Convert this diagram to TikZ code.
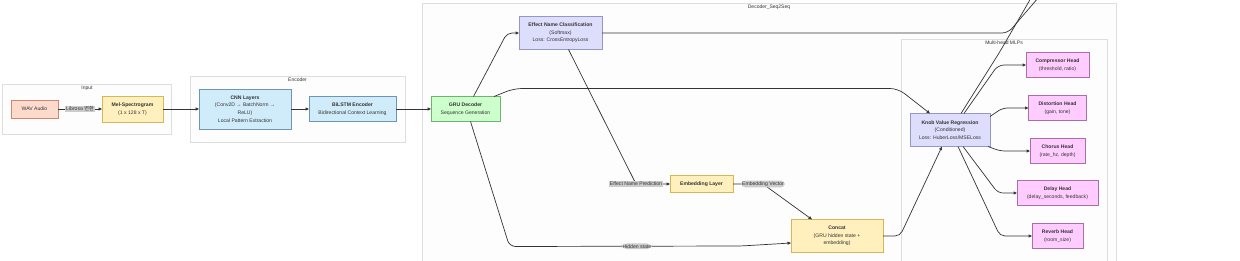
\documentclass[tikz,border=0pt]{standalone}
\usepackage{fontspec}
\setmainfont{Liberation Sans}
\newfontfamily\krfont{Noto Sans CJK KR}
\usepackage{tikz}
\usetikzlibrary{positioning,fit,backgrounds,calc,arrows.meta}
\definecolor{textgray}{RGB}{51,51,51}
\definecolor{linegray}{RGB}{51,51,51}
\definecolor{labelgray}{RGB}{204,204,204}
\definecolor{clusterfill}{RGB}{253,253,253}
\definecolor{clusterdraw}{RGB}{222,222,222}
\definecolor{wavfill}{RGB}{253,218,204}
\definecolor{wavdraw}{RGB}{204,136,112}
\definecolor{melfill}{RGB}{255,240,190}
\definecolor{meldraw}{RGB}{214,182,86}
\definecolor{encfill}{RGB}{208,236,250}
\definecolor{encdraw}{RGB}{110,150,180}
\definecolor{grufill}{RGB}{204,255,204}
\definecolor{grudraw}{RGB}{110,180,110}
\definecolor{taskfill}{RGB}{221,221,252}
\definecolor{taskdraw}{RGB}{150,150,200}
\definecolor{headfill}{RGB}{255,204,255}
\definecolor{headdraw}{RGB}{170,110,170}

\begin{document}
\begin{tikzpicture}[
    x=1pt, y=-1pt,
    box/.style={rectangle, draw, line width=0.5pt, outer sep=0pt, text=textgray, align=center, inner sep=1pt, font=\fontsize{5.1}{7.6}\selectfont},
    audio/.style={box, draw=wavdraw, fill=wavfill},
    feature/.style={box, draw=meldraw, fill=melfill},
    encoder/.style={box, draw=encdraw, fill=encfill},
    decoder/.style={box, draw=grudraw, fill=grufill},
    task/.style={box, draw=taskdraw, fill=taskfill},
    head/.style={box, draw=headdraw, fill=headfill, minimum height=25pt},
    cluster/.style={rectangle, draw=clusterdraw, fill=clusterfill, line width=0.6pt, outer sep=0pt, inner xsep=9pt, inner ysep=13pt},
    clabel/.style={anchor=north, inner sep=1.5pt, text=textgray, font=\fontsize{5}{6}\selectfont},
    elabel/.style={fill=labelgray, inner sep=1pt, text=textgray, font=\fontsize{5.1}{6}\selectfont},
    arrow/.style={-{Triangle[length=3.5pt, width=3pt]}, line width=0.7pt, draw=linegray}
]

\useasboundingbox (0,0) rectangle (1240,260);
\clip (0,0) rectangle (1240,260);

\node[audio, minimum width=47pt, minimum height=18pt] (wav) at (34.5,109) {WAV Audio};
\node[feature, minimum width=61pt, minimum height=26pt, right=44pt of wav] (mel) {\textbf{Mel-Spectrogram}\\(1 x 128 x T)};

\node[encoder, minimum width=92pt, minimum height=40pt, right=36pt of mel] (cnn) {\textbf{CNN Layers}\\(Conv2D → BatchNorm →\\ReLU)\\Local Pattern Extraction};
\node[encoder, minimum width=87pt, minimum height=25pt, right=18pt of cnn] (bilstm) {\textbf{BiLSTM Encoder}\\Bidirectional Context Learning};

\node[decoder, minimum width=69pt, minimum height=25pt, right=35pt of bilstm] (gru) {\textbf{GRU Decoder}\\Sequence Generation};
\node[task, minimum width=83pt, minimum height=33pt, above right=47pt and 19pt of gru] (cls) {\textbf{Effect Name Classification}\\(Softmax)\\Loss: CrossEntropyLoss};
\node[feature, minimum width=63pt, minimum height=17pt, below right=126pt and 68pt of cls] (embed) {\textbf{Embedding Layer}};
\node[feature, minimum width=92pt, minimum height=33pt, below right=27pt and 58pt of embed] (concat) {\textbf{Concat}\\(GRU hidden state +\\embedding)};
\node[task, minimum width=80pt, minimum height=33pt, above right=73pt and 27pt of concat] (knob) {\textbf{Knob Value Regression}\\(Conditioned)\\Loss: HuberLoss/MSELoss};

\node[head, minimum width=63pt, above right=36pt and 36pt of knob] (comp) {\textbf{Compressor Head}\\(threshold, ratio)};
\node[head, minimum width=58pt, below=18pt of comp] (dist) {\textbf{Distortion Head}\\(gain, tone)};
\node[head, minimum width=55pt, below=18pt of dist] (chorus) {\textbf{Chorus Head}\\(rate\_hz, depth)};
\node[head, minimum width=81pt, below=17pt of chorus] (delay) {\textbf{Delay Head}\\(delay\_seconds, feedback)};
\node[head, minimum width=51pt, below=18pt of delay] (reverb) {\textbf{Reverb Head}\\(room\_size)};

\coordinate (outknob) at ($(comp.north)+(-10pt,83pt)$);
\coordinate (outcls) at ($(comp.north)+(5pt,83pt)$);
\coordinate (decright) at ([xshift=9pt]delay.east);

\begin{scope}[on background layer]
\fill[white] (0,0) rectangle (1240,260);
\node[cluster, fit=(wav)(mel), inner xsep=8.5pt, inner ysep=12pt, label={[clabel]north:Input}] (input) {};
\node[cluster, fit=(cnn)(bilstm), label={[clabel]north:Encoder}] (enc) {};
\node[cluster, fit=(gru)(cls)(reverb)(decright), label={[clabel]north:Decoder\_Seq2Seq}] (dec) {};
\node[cluster, fit=(knob)(comp)(delay)(reverb), label={[clabel]north:Multi-head MLPs}] (mlps) {};
\end{scope}

\draw[arrow] (wav) -- node[elabel] {Librosa {\krfont 변환}} (mel);
\draw[arrow] (mel) -- (cnn);
\draw[arrow] (cnn) -- (bilstm);
\draw[arrow] (bilstm) -- (gru);

\draw[arrow, rounded corners=5pt] ([xshift=8pt]gru.north) -- ($(cls.west)+(-12pt,0)$) -- (cls.west);
\draw[arrow, rounded corners=8pt] ([xshift=-6pt]gru.north east) -- ($(gru.north east)+(14pt,8pt)$) -- ($(knob.north west)+(-12pt,25pt)$) -- ([xshift=20pt]knob.north west);
\draw[arrow, rounded corners=6pt] ([xshift=5pt]gru.south) -- ($(gru.south)+(44pt,-125pt)$) -- node[elabel, pos=0.55] {Hidden state} ($(concat.west)+(-50pt,-10pt)$) -- ([yshift=-7pt]concat.west);

\draw[arrow, rounded corners=6pt] (cls.east) -- ($(cls.east)+(406pt,0)$) -- (outcls);
\draw[arrow] ([xshift=8pt]cls.south) -- ($(embed.west)+(-34pt,0)$) node[elabel] {Effect Name Prediction} -- (embed.west);
\draw[arrow, rounded corners=4pt] (embed.east) -- ($(embed.east)+(30pt,0)$) node[elabel] {Embedding Vector} -- ([xshift=-25pt]concat.north);
\draw[arrow, rounded corners=5pt] (concat.east) -- ($(concat.east)+(17pt,0)$) -- ([xshift=-8pt]knob.south);

\draw[arrow, rounded corners=6pt] ([xshift=11pt]knob.north) -- ($(comp.north west)+(-26pt,1pt)$) -- (outknob);
\draw[arrow, rounded corners=6pt] ([xshift=14pt]knob.north) -- ($(comp.west)+(-28pt,0)$) -- (comp.west);
\draw[arrow, rounded corners=5pt] ([yshift=-3pt]knob.north east) -- ($(dist.west)+(-26pt,0)$) -- (dist.west);
\draw[arrow, rounded corners=5pt] ([xshift=-2pt]knob.south east) -- ($(chorus.west)+(-30pt,0)$) -- (chorus.west);
\draw[arrow, rounded corners=5pt] ([xshift=13pt]knob.south) -- ($(delay.west)+(-19pt,0)$) -- (delay.west);
\draw[arrow, rounded corners=5pt] ([xshift=8pt]knob.south) -- ($(reverb.west)+(-32pt,0)$) -- (reverb.west);

\end{tikzpicture}
\end{document}
